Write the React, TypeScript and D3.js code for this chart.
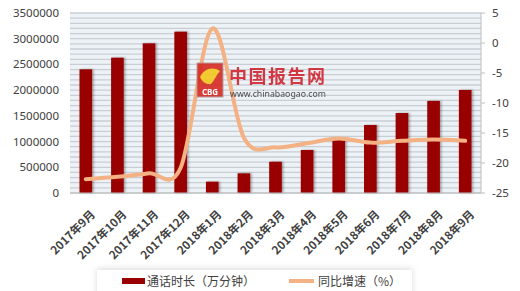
import React from "react";
import * as d3 from "d3";

const categories = ["2017年9月", "2017年10月", "2017年11月", "2017年12月", "2018年1月", "2018年2月", "2018年3月", "2018年4月", "2018年5月", "2018年6月", "2018年7月", "2018年8月", "2018年9月"];
const durationValues = [2405000, 2631000, 2910000, 3137000, 220000, 383000, 608000, 836000, 1030000, 1322000, 1555000, 1790000, 2003000];
const growthValues = [-22.7, -22.3, -21.7, -20.8, 2.4, -15.8, -17.4, -16.7, -15.9, -16.6, -16.3, -16.1, -16.3];
const leftTicks = [0, 500000, 1000000, 1500000, 2000000, 2500000, 3000000, 3500000];
const rightTicks = [-25, -20, -15, -10, -5, 0, 5];
const seriesNames = ["通话时长（万分钟）", "同比增速（%）"];

const W = 520, H = 291;
const left = 70, right = 481, top = 13, bottom = 193;

export default function App() {
  const x = d3.scaleBand<string>().domain(categories).range([left, right]).paddingInner(0.6).paddingOuter(0.3);
  const yL = d3.scaleLinear().domain([0, 3500000]).range([bottom, top]);
  const yR = d3.scaleLinear().domain([-25, 5]).range([bottom, top]);
  const minor = d3.range(0, 3500001, 100000);
  const line = d3.line<number>()
    .x((_, i) => (x(categories[i]) as number) + x.bandwidth() / 2)
    .y((d) => yR(d))
    .curve(d3.curveCardinal.tension(0));
  const font = "'Noto Sans', 'Noto Sans CJK SC', sans-serif";
  const cjk = "'Noto Sans CJK SC', 'Noto Sans', sans-serif";
  return (
    <svg width={W} height={H} style={{ position: "absolute", left: 0, top: 0, background: "#fff" }}>
      <defs>
        <filter id="bs" x="-50%" y="-10%" width="200%" height="120%">
          <feDropShadow dx="1.5" dy="0" stdDeviation="1" floodColor="#000" floodOpacity="0.35" />
        </filter>
        <filter id="ls" x="-10%" y="-50%" width="120%" height="200%">
          <feDropShadow dx="0" dy="-1" stdDeviation="3" floodColor="#000" floodOpacity="0.15" />
        </filter>
      </defs>
      <rect x={left} y={top} width={right - left} height={bottom - top} fill="#edf2f7" />
      {minor.map((v) => (
        <line key={v} x1={left} x2={right} y1={yL(v)} y2={yL(v)} stroke="#c9ced4" strokeWidth={1.3} />
      ))}
      {durationValues.map((v, i) => (
        <rect key={i} x={x(categories[i])} y={yL(v)} width={x.bandwidth()} height={bottom - yL(v)} fill="#990000" filter="url(#bs)" />
      ))}
      <line x1={left} x2={right} y1={bottom} y2={bottom} stroke="#bfbfbf" />
      <line x1={right} x2={right} y1={top} y2={bottom} stroke="#bfbfbf" />
      {rightTicks.map((t) => (
        <line key={t} x1={right} x2={right + 4} y1={yR(t)} y2={yR(t)} stroke="#bfbfbf" />
      ))}
      <path d={line(growthValues) || ""} fill="none" stroke="#f4b183" strokeWidth={4} strokeLinecap="round" />
      {/* watermark */}
      <g opacity={0.88}>
        <rect x={197} y={63} width={26} height={34} fill="#d5261e" stroke="#b09090" strokeWidth={1} />
        <path d="M200,77 C204,69 212,66 220,71 C216,75 215,80 211,84 C207,85 202,82 200,77 Z" fill="#f5c518" />
        <text x={210} y={95} textAnchor="middle" fontSize={8} fontWeight="bold" fill="#fff" fontFamily={font}>CBG</text>
        <text x={229} y={83} fontSize={18} fontWeight="bold" fill="#d0202a" fontFamily={cjk} letterSpacing={1.5}>中国报告网</text>
        <text x={230} y={97} fontSize={9.5} fill="#333" fontFamily={font} textLength={96} lengthAdjust="spacingAndGlyphs">www.chinabaogao.com</text>
      </g>
      {leftTicks.map((t) => (
        <text key={t} x={59} y={yL(t)} dy="0.35em" textAnchor="end" fontSize={11.5} fill="#404040" fontFamily={font}>{t}</text>
      ))}
      {rightTicks.map((t) => (
        <text key={t} x={492} y={yR(t)} dy="0.35em" textAnchor="start" fontSize={11.5} fill="#404040" fontFamily={font}>{t}</text>
      ))}
      {categories.map((c) => {
        const cx = (x(c) as number) + x.bandwidth() / 2 + 10;
        const cy = 215;
        return (
          <text key={c} x={cx} y={cy} textAnchor="end" fontSize={11.5} fontWeight="bold" fill="#404040" fontFamily={cjk} transform={`rotate(-45,${cx},${cy})`}>{c}</text>
        );
      })}
      <rect x={97} y={270} width={315} height={30} fill="#fff" filter="url(#ls)" />
      <rect x={122} y={278} width={23} height={6} fill="#990000" />
      <text x={147} y={285.5} fontSize={12} fill="#404040" fontFamily={cjk}>{seriesNames[0]}</text>
      <line x1={289} x2={314} y1={281} y2={281} stroke="#f4b183" strokeWidth={4} />
      <text x={318} y={285.5} fontSize={12} fill="#404040" fontFamily={cjk}>{seriesNames[1]}</text>
    </svg>
  );
}
